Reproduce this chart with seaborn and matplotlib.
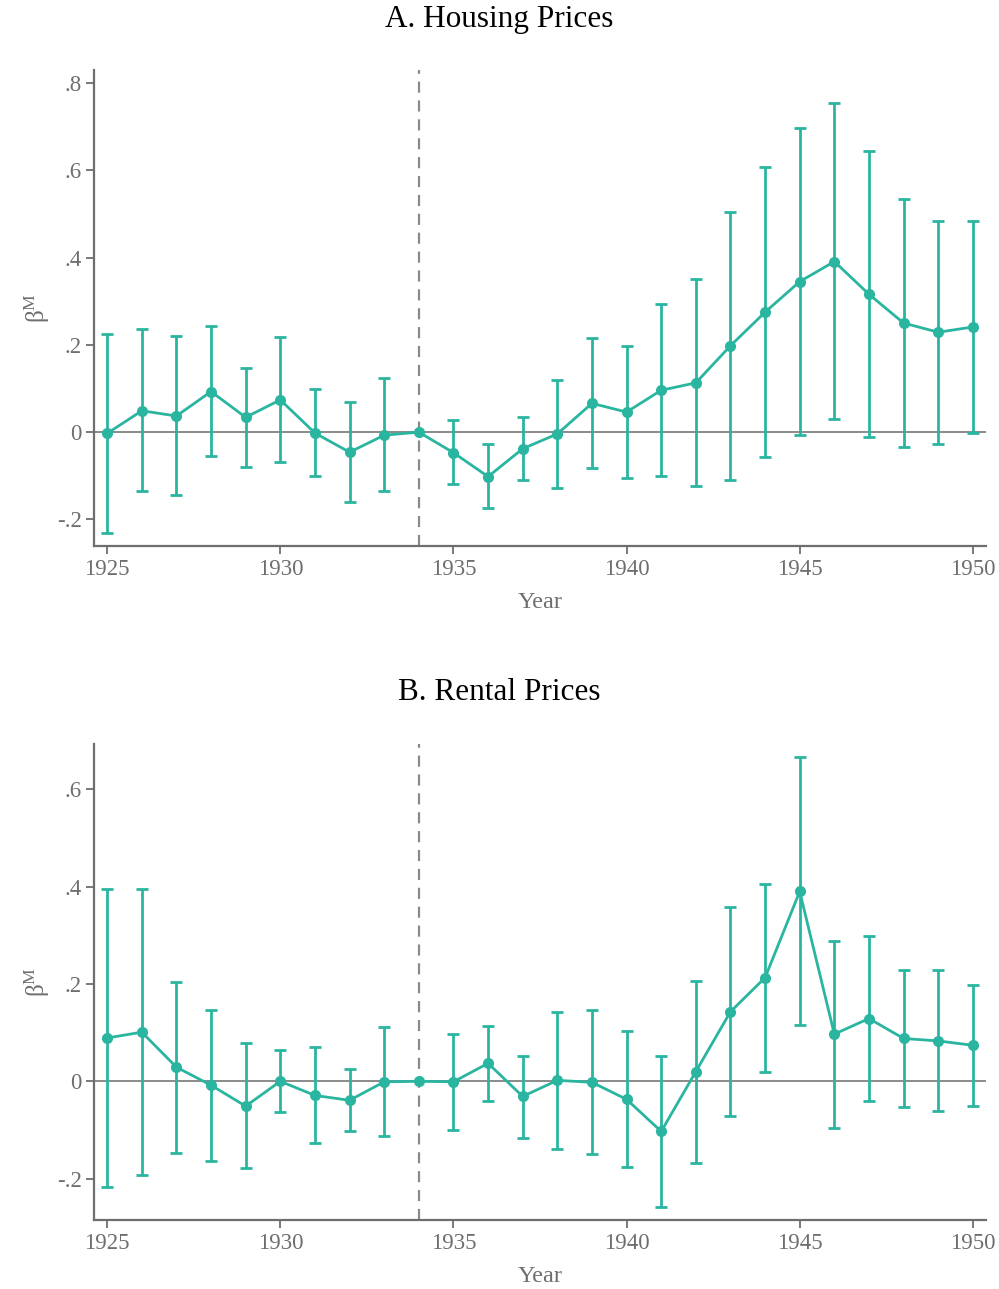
import numpy as np
import pandas as pd
import matplotlib
matplotlib.use("Agg")
import matplotlib.pyplot as plt
import seaborn as sns

# Event-study coefficients by year
years = list(range(1925, 1951))

housing_coef = [-0.003, 0.049, 0.037, 0.093, 0.034, 0.074, -0.002, -0.046, -0.007, 0.0,
                -0.047, -0.102, -0.038, -0.004, 0.066, 0.046, 0.096, 0.113, 0.198, 0.275,
                0.345, 0.391, 0.316, 0.250, 0.229, 0.241]
housing_hi = [0.225, 0.237, 0.220, 0.243, 0.146, 0.218, 0.098, 0.070, 0.123, 0.0,
              0.027, -0.028, 0.034, 0.120, 0.216, 0.198, 0.294, 0.350, 0.505, 0.607,
              0.697, 0.755, 0.644, 0.534, 0.483, 0.483]
housing_lo = [-0.232, -0.136, -0.144, -0.055, -0.080, -0.068, -0.101, -0.161, -0.136, 0.0,
              -0.119, -0.175, -0.110, -0.128, -0.083, -0.104, -0.101, -0.124, -0.109, -0.057,
              -0.006, 0.029, -0.011, -0.033, -0.027, -0.002]

rental_coef = [0.089, 0.101, 0.029, -0.008, -0.051, 0.0, -0.029, -0.039, -0.001, 0.0,
               -0.001, 0.037, -0.031, 0.002, -0.002, -0.037, -0.103, 0.020, 0.143, 0.213,
               0.390, 0.097, 0.129, 0.088, 0.083, 0.074]
rental_hi = [0.395, 0.395, 0.204, 0.146, 0.079, 0.064, 0.070, 0.026, 0.112, 0.0,
             0.098, 0.113, 0.053, 0.143, 0.146, 0.103, 0.053, 0.207, 0.358, 0.406,
             0.666, 0.288, 0.298, 0.229, 0.229, 0.198]
rental_lo = [-0.217, -0.192, -0.147, -0.163, -0.179, -0.064, -0.126, -0.103, -0.112, 0.0,
             -0.100, -0.040, -0.117, -0.139, -0.150, -0.176, -0.258, -0.168, -0.072, 0.019,
             0.115, -0.095, -0.040, -0.053, -0.062, -0.050]

ref_year = 1934
panel_titles = ["A. Housing Prices", "B. Rental Prices"]
ytick_vals = [[-0.2, 0, 0.2, 0.4, 0.6, 0.8], [-0.2, 0, 0.2, 0.4, 0.6]]
ytick_labels = [["-.2", "0", ".2", ".4", ".6", ".8"], ["-.2", "0", ".2", ".4", ".6"]]
xtick_vals = [1925, 1930, 1935, 1940, 1945, 1950]

sns.set_theme(style="white")
plt.rcParams["font.family"] = ["Liberation Serif", "DejaVu Serif"]
plt.rcParams["mathtext.fontset"] = "custom"
plt.rcParams["mathtext.rm"] = "Liberation Serif"
plt.rcParams["mathtext.it"] = "Liberation Serif:italic"

TEAL = "#2ab5a0"
GREY = "#6e6e6e"

fig = plt.figure(figsize=(9.99, 12.89), dpi=100)
axes = [fig.add_axes([0.0941, 0.5764, 0.8929, 0.3693]),
        fig.add_axes([0.0941, 0.0535, 0.8929, 0.3693])]
title_y = [1 - 19 / 1289, 1 - 693 / 1289]

panels = [
    (housing_coef, housing_lo, housing_hi, (-0.261, 0.830)),
    (rental_coef, rental_lo, rental_hi, (-0.285, 0.693)),
]

for i, (ax, (coef, lo, hi, ylim)) in enumerate(zip(axes, panels)):
    df = pd.DataFrame({"year": years, "coef": coef, "lo": lo, "hi": hi})
    bars = df[df["year"] != ref_year]

    ax.axhline(0, color="#8a8a8a", lw=1.4, zorder=1)
    ax.axvline(ref_year, color="#8a8a8a", lw=1.6, ls=(0, (5, 3.5)), zorder=1)

    ax.errorbar(bars["year"], bars["coef"],
                yerr=[bars["coef"] - bars["lo"], bars["hi"] - bars["coef"]],
                fmt="none", ecolor=TEAL, elinewidth=2.0, capsize=4.5, capthick=2.0, zorder=2)
    sns.lineplot(data=df, x="year", y="coef", ax=ax, color=TEAL, lw=2.0,
                 marker="o", markersize=8, markeredgewidth=0, zorder=3)

    ax.set_xlim(1924.62, 1950.38)
    ax.set_ylim(*ylim)
    ax.set_xticks(xtick_vals)
    ax.set_xticklabels([str(v) for v in xtick_vals])
    ax.set_yticks(ytick_vals[i])
    ax.set_yticklabels(ytick_labels[i])

    for side in ["top", "right"]:
        ax.spines[side].set_visible(False)
    for side in ["left", "bottom"]:
        ax.spines[side].set_color(GREY)
        ax.spines[side].set_linewidth(1.6)

    ax.tick_params(axis="both", which="major", direction="out", length=6, width=1.3,
                   color=GREY, labelcolor=GREY, labelsize=16.5, pad=3,
                   bottom=True, left=True)
    ax.set_xlabel("Year", color=GREY, fontsize=17.5, labelpad=9)
    ax.set_ylabel(r"$\mathrm{β}^{\mathrm{M}}$", color=GREY, fontsize=18, labelpad=3)
    fig.text(0.5, title_y[i], panel_titles[i], color="black", fontsize=22.5,
             ha="center", va="center")

fig.savefig("out.png", dpi=100)
